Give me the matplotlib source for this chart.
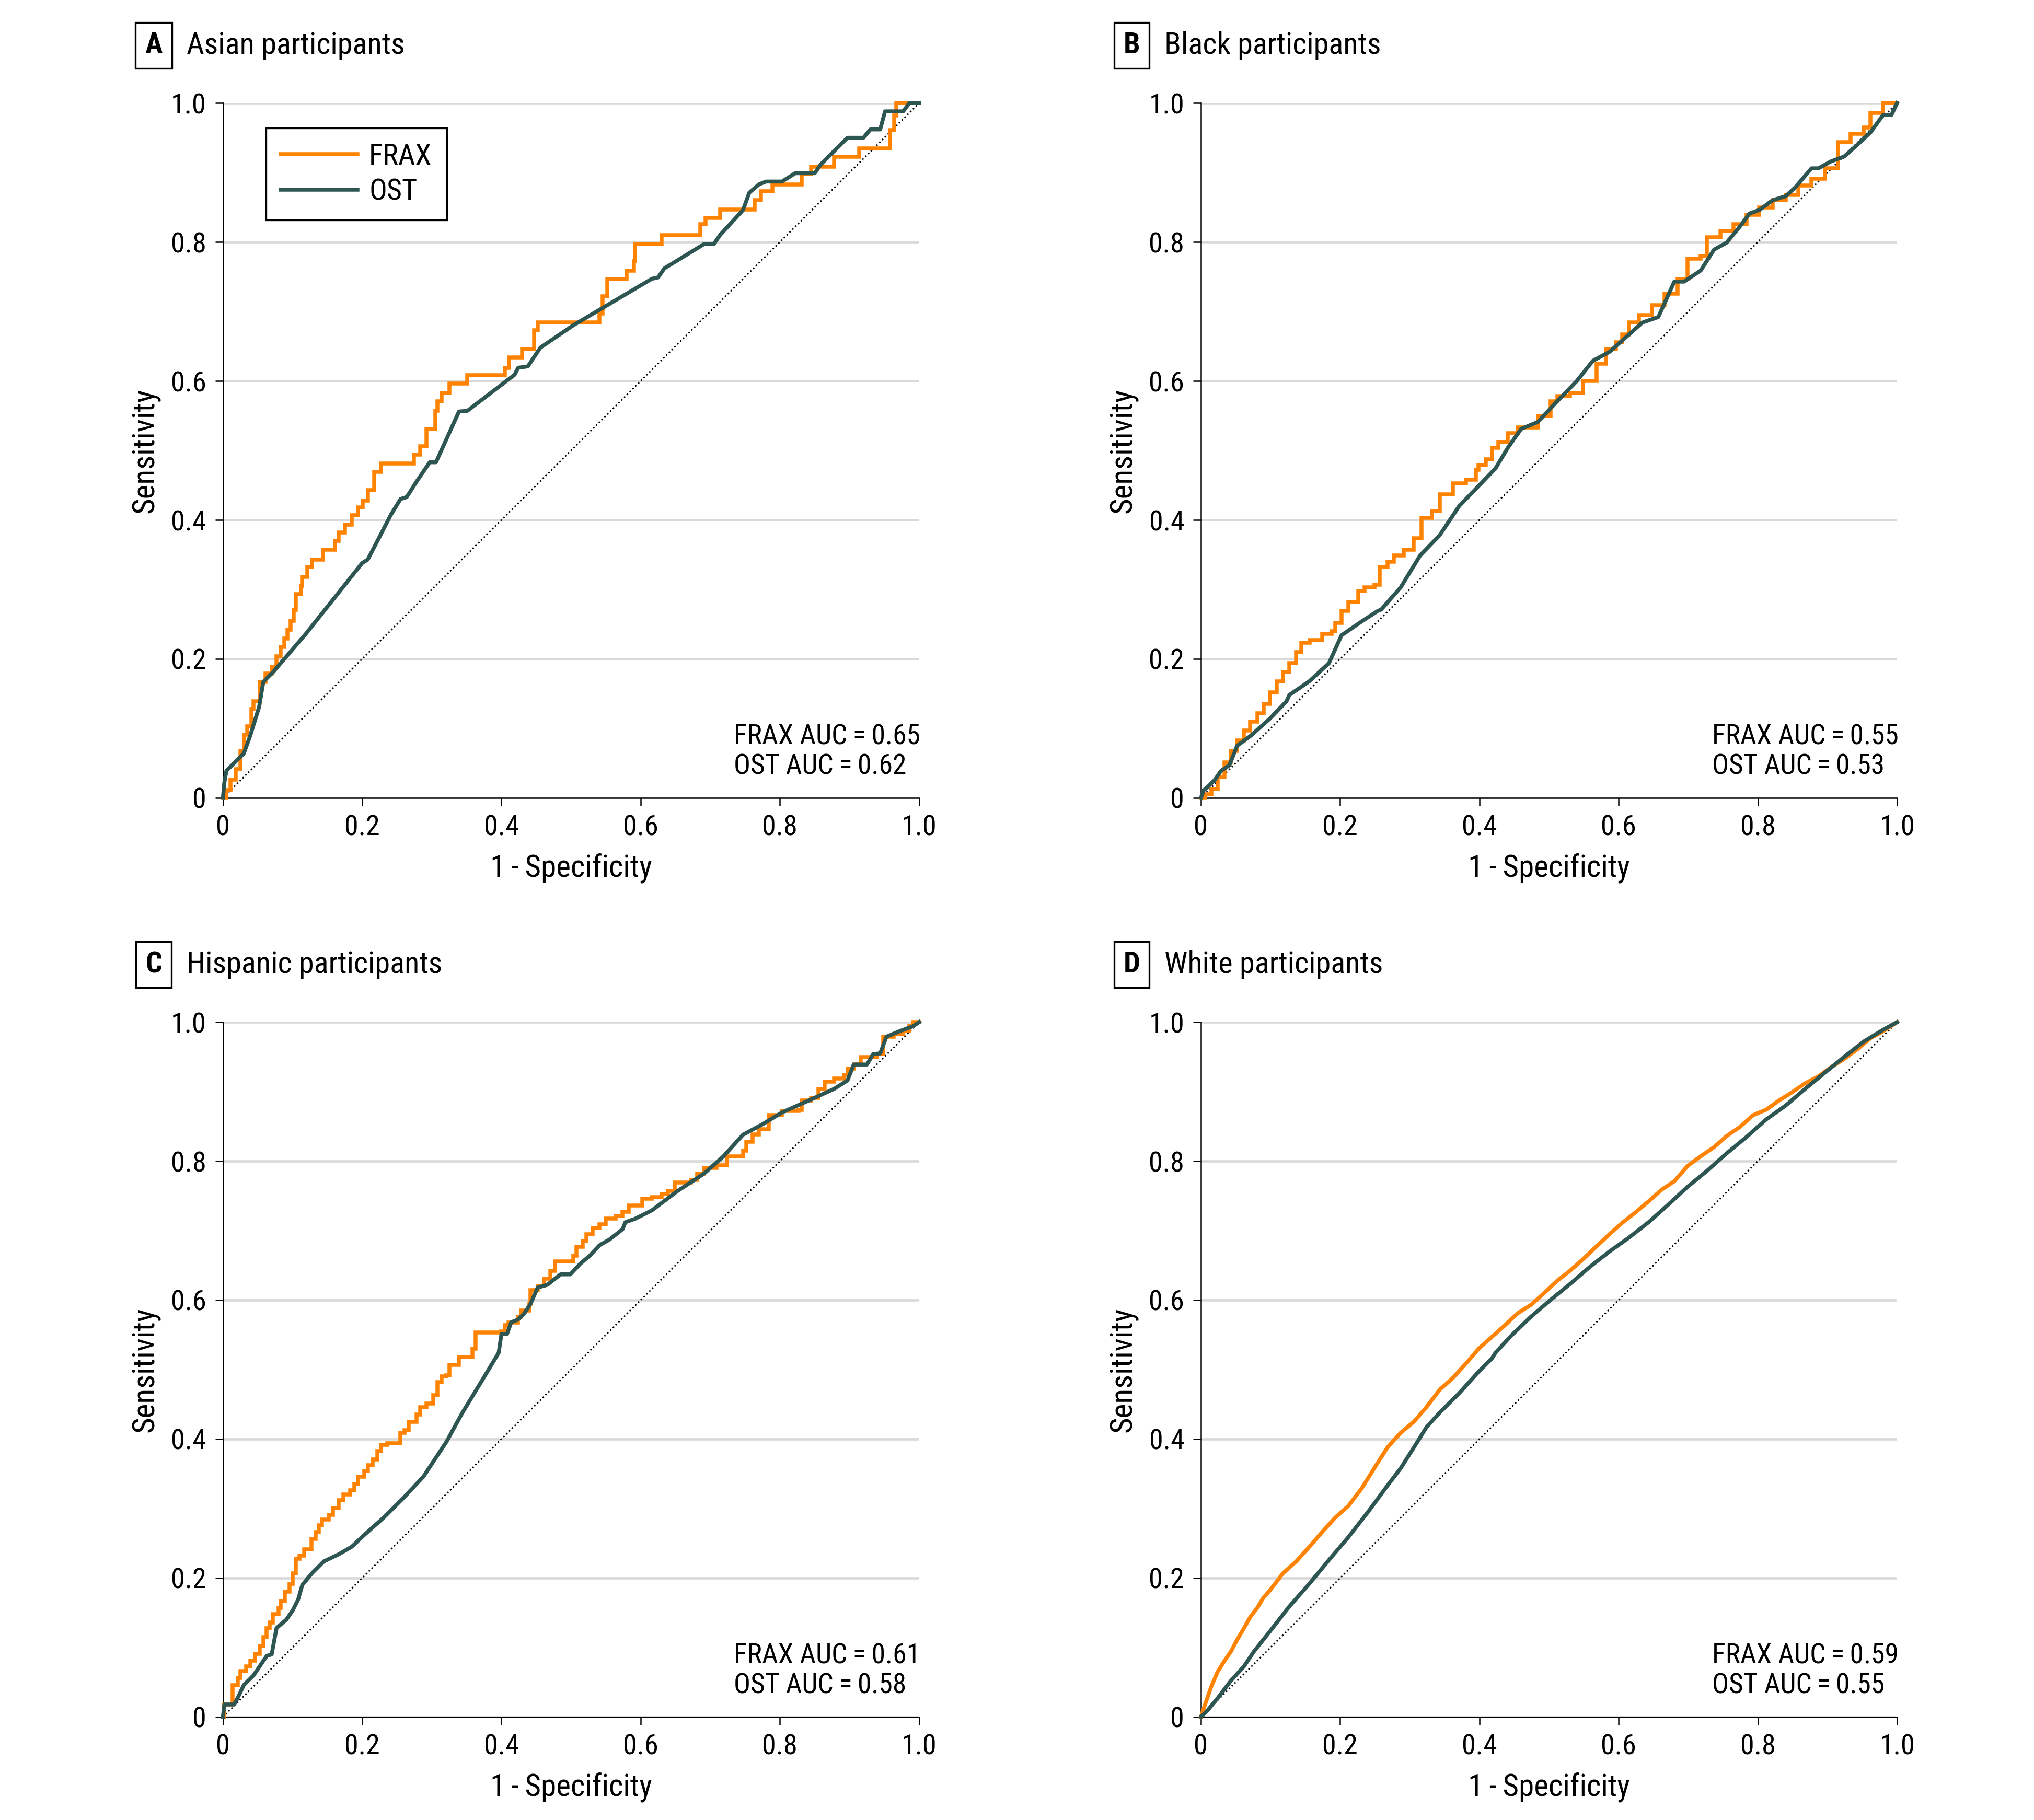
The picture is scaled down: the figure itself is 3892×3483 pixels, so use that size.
import numpy as np
import matplotlib
matplotlib.use('Agg')
import matplotlib.pyplot as plt

plt.rcParams['font.family'] = ['Roboto Condensed', 'Liberation Sans', 'DejaVu Sans']

# ==========================================
# 1. ROC CURVE POINTS
# ==========================================
# Asian participants
asian_frax_fpr = [0, 0.005, 0.011, 0.018, 0.025, 0.030, 0.035, 0.041, 0.044, 0.053, 0.061, 0.070, 0.077, 0.083,
                  0.088, 0.093, 0.097, 0.102, 0.105, 0.112, 0.114, 0.121, 0.128, 0.144, 0.161, 0.166, 0.175, 0.185,
                  0.194, 0.201, 0.208, 0.217, 0.227, 0.274, 0.283, 0.292, 0.305, 0.308, 0.314, 0.325, 0.351, 0.405,
                  0.411, 0.430, 0.447, 0.452, 0.541, 0.545, 0.552, 0.580, 0.590, 0.592, 0.630, 0.686, 0.693, 0.714,
                  0.764, 0.773, 0.789, 0.831, 0.845, 0.878, 0.914, 0.958, 0.964, 0.967, 1.0]
asian_frax_tpr = [0, 0.011, 0.026, 0.041, 0.068, 0.091, 0.103, 0.128, 0.139, 0.167, 0.179, 0.189, 0.204, 0.217,
                  0.229, 0.242, 0.255, 0.271, 0.293, 0.305, 0.318, 0.332, 0.343, 0.357, 0.370, 0.382, 0.393, 0.407,
                  0.418, 0.428, 0.443, 0.469, 0.481, 0.494, 0.506, 0.531, 0.557, 0.571, 0.583, 0.596, 0.608, 0.619,
                  0.634, 0.646, 0.673, 0.684, 0.697, 0.722, 0.747, 0.759, 0.772, 0.797, 0.810, 0.826, 0.835, 0.847,
                  0.860, 0.873, 0.883, 0.898, 0.908, 0.923, 0.935, 0.961, 0.982, 1.0, 1.0]
asian_ost_fpr = [0, 0.002, 0.005, 0.030, 0.039, 0.052, 0.058, 0.072, 0.119, 0.200, 0.208, 0.222, 0.241, 0.255,
                 0.264, 0.278, 0.297, 0.306, 0.325, 0.339, 0.351, 0.419, 0.424, 0.438, 0.456, 0.503, 0.616, 0.625,
                 0.634, 0.691, 0.705, 0.714, 0.747, 0.756, 0.770, 0.780, 0.803, 0.822, 0.850, 0.859, 0.897, 0.920,
                 0.930, 0.944, 0.951, 0.977, 0.986, 1.0]
asian_ost_tpr = [0, 0.022, 0.039, 0.064, 0.089, 0.131, 0.167, 0.181, 0.236, 0.338, 0.343, 0.370, 0.407, 0.430,
                 0.433, 0.455, 0.483, 0.483, 0.525, 0.556, 0.557, 0.609, 0.619, 0.621, 0.648, 0.680, 0.747, 0.749,
                 0.762, 0.797, 0.797, 0.810, 0.846, 0.871, 0.883, 0.887, 0.887, 0.899, 0.899, 0.912, 0.950, 0.950,
                 0.962, 0.962, 0.988, 0.988, 1.0, 1.0]

# Black participants
black_frax_fpr = [0, 0.006, 0.015, 0.024, 0.034, 0.043, 0.052, 0.062, 0.071, 0.081, 0.090, 0.099, 0.109, 0.118,
                  0.127, 0.137, 0.144, 0.156, 0.174, 0.188, 0.193, 0.202, 0.212, 0.226, 0.235, 0.249, 0.257, 0.268,
                  0.277, 0.291, 0.306, 0.317, 0.332, 0.343, 0.362, 0.381, 0.395, 0.399, 0.409, 0.418, 0.427, 0.441,
                  0.455, 0.484, 0.502, 0.512, 0.530, 0.549, 0.568, 0.582, 0.596, 0.605, 0.615, 0.629, 0.648, 0.666,
                  0.685, 0.699, 0.718, 0.727, 0.746, 0.765, 0.784, 0.802, 0.821, 0.840, 0.858, 0.877, 0.896, 0.915,
                  0.933, 0.952, 0.962, 0.980, 1.0]
black_frax_tpr = [0, 0.005, 0.013, 0.030, 0.051, 0.068, 0.083, 0.097, 0.110, 0.122, 0.135, 0.152, 0.168, 0.181,
                  0.194, 0.210, 0.223, 0.227, 0.236, 0.240, 0.252, 0.269, 0.282, 0.298, 0.303, 0.307, 0.332, 0.340,
                  0.349, 0.357, 0.374, 0.403, 0.413, 0.437, 0.453, 0.458, 0.472, 0.479, 0.487, 0.504, 0.512, 0.525,
                  0.533, 0.550, 0.571, 0.578, 0.583, 0.600, 0.625, 0.646, 0.656, 0.667, 0.684, 0.695, 0.709, 0.726,
                  0.747, 0.776, 0.780, 0.807, 0.816, 0.826, 0.839, 0.850, 0.860, 0.868, 0.881, 0.891, 0.906, 0.944,
                  0.956, 0.965, 0.986, 1.0, 1.0]
black_ost_fpr = [0, 0.004, 0.010, 0.020, 0.029, 0.041, 0.052, 0.071, 0.099, 0.123, 0.127, 0.156, 0.184, 0.202,
                 0.231, 0.254, 0.259, 0.287, 0.315, 0.343, 0.371, 0.399, 0.423, 0.441, 0.460, 0.484, 0.512, 0.540,
                 0.563, 0.587, 0.615, 0.634, 0.657, 0.680, 0.694, 0.718, 0.737, 0.755, 0.774, 0.788, 0.802, 0.821,
                 0.840, 0.854, 0.877, 0.887, 0.905, 0.924, 0.943, 0.962, 0.980, 0.992, 1.0]
black_ost_tpr = [0, 0.011, 0.016, 0.026, 0.039, 0.047, 0.075, 0.089, 0.114, 0.139, 0.148, 0.168, 0.194, 0.234,
                 0.254, 0.269, 0.271, 0.303, 0.349, 0.378, 0.420, 0.449, 0.474, 0.504, 0.531, 0.541, 0.571, 0.600,
                 0.629, 0.642, 0.667, 0.684, 0.692, 0.743, 0.743, 0.759, 0.789, 0.799, 0.822, 0.841, 0.846, 0.860,
                 0.866, 0.879, 0.906, 0.906, 0.916, 0.923, 0.940, 0.958, 0.983, 0.983, 1.0]

# Hispanic participants
hisp_frax_fpr = [0, 0.002, 0.014, 0.021, 0.025, 0.033, 0.039, 0.046, 0.053, 0.058, 0.063, 0.067, 0.072, 0.080,
                 0.083, 0.089, 0.096, 0.100, 0.105, 0.110, 0.117, 0.127, 0.133, 0.138, 0.142, 0.152, 0.158, 0.166,
                 0.173, 0.183, 0.189, 0.194, 0.203, 0.208, 0.215, 0.222, 0.227, 0.236, 0.255, 0.261, 0.267, 0.278,
                 0.283, 0.292, 0.302, 0.308, 0.314, 0.321, 0.325, 0.339, 0.358, 0.363, 0.367, 0.400, 0.405, 0.410,
                 0.424, 0.428, 0.440, 0.442, 0.452, 0.461, 0.470, 0.477, 0.483, 0.503, 0.508, 0.517, 0.522, 0.531,
                 0.541, 0.550, 0.564, 0.574, 0.583, 0.602, 0.616, 0.630, 0.639, 0.649, 0.672, 0.681, 0.691, 0.709,
                 0.724, 0.747, 0.752, 0.761, 0.770, 0.784, 0.803, 0.827, 0.831, 0.845, 0.855, 0.864, 0.878, 0.892,
                 0.897, 0.906, 0.916, 0.939, 0.948, 0.963, 0.977, 0.986, 0.991, 1.0]
hisp_frax_tpr = [0, 0.018, 0.046, 0.056, 0.066, 0.073, 0.081, 0.091, 0.102, 0.115, 0.128, 0.136, 0.148, 0.157,
                 0.167, 0.180, 0.192, 0.207, 0.228, 0.232, 0.241, 0.256, 0.266, 0.276, 0.284, 0.291, 0.301, 0.312,
                 0.320, 0.326, 0.335, 0.346, 0.354, 0.362, 0.371, 0.383, 0.392, 0.394, 0.409, 0.413, 0.425, 0.435,
                 0.446, 0.451, 0.463, 0.482, 0.490, 0.492, 0.507, 0.518, 0.530, 0.553, 0.553, 0.555, 0.564, 0.568,
                 0.576, 0.585, 0.595, 0.614, 0.620, 0.631, 0.642, 0.656, 0.656, 0.664, 0.677, 0.685, 0.695, 0.704,
                 0.709, 0.717, 0.721, 0.727, 0.736, 0.746, 0.748, 0.753, 0.757, 0.769, 0.773, 0.782, 0.790, 0.794,
                 0.807, 0.815, 0.828, 0.838, 0.846, 0.866, 0.872, 0.874, 0.887, 0.891, 0.904, 0.914, 0.919, 0.924,
                 0.933, 0.939, 0.950, 0.954, 0.979, 0.983, 0.987, 0.995, 1.0, 1.0]
hisp_ost_fpr = [0, 0.002, 0.016, 0.021, 0.030, 0.044, 0.063, 0.070, 0.077, 0.091, 0.100, 0.108, 0.114, 0.128,
                0.145, 0.166, 0.185, 0.203, 0.231, 0.260, 0.288, 0.321, 0.344, 0.372, 0.396, 0.400, 0.408, 0.414,
                0.424, 0.433, 0.442, 0.452, 0.466, 0.485, 0.499, 0.513, 0.527, 0.541, 0.555, 0.564, 0.574, 0.578,
                0.592, 0.616, 0.653, 0.691, 0.719, 0.747, 0.775, 0.803, 0.841, 0.878, 0.897, 0.906, 0.925, 0.934,
                0.944, 0.953, 0.972, 0.991, 1.0]
hisp_ost_tpr = [0, 0.018, 0.018, 0.027, 0.046, 0.060, 0.088, 0.090, 0.128, 0.140, 0.153, 0.169, 0.190, 0.207,
                0.224, 0.234, 0.245, 0.262, 0.287, 0.316, 0.346, 0.396, 0.438, 0.484, 0.524, 0.551, 0.551, 0.568,
                0.572, 0.581, 0.595, 0.618, 0.622, 0.637, 0.637, 0.652, 0.664, 0.679, 0.687, 0.694, 0.702, 0.712,
                0.717, 0.729, 0.757, 0.782, 0.807, 0.838, 0.853, 0.870, 0.887, 0.904, 0.916, 0.939, 0.939, 0.954,
                0.955, 0.979, 0.987, 0.994, 1.0]

# White participants
white_frax_fpr = [0, 0.006, 0.015, 0.024, 0.034, 0.043, 0.052, 0.062, 0.071, 0.081, 0.090, 0.099, 0.109, 0.118,
                  0.137, 0.156, 0.174, 0.193, 0.212, 0.231, 0.249, 0.268, 0.287, 0.306, 0.324, 0.343, 0.362, 0.381,
                  0.399, 0.418, 0.437, 0.455, 0.474, 0.493, 0.512, 0.530, 0.549, 0.568, 0.587, 0.605, 0.624, 0.643,
                  0.662, 0.680, 0.699, 0.718, 0.737, 0.755, 0.774, 0.793, 0.812, 0.830, 0.849, 0.868, 0.887, 0.905,
                  0.924, 0.943, 0.962, 0.980, 1.0]
white_frax_tpr = [0, 0.018, 0.044, 0.065, 0.081, 0.094, 0.111, 0.128, 0.144, 0.157, 0.172, 0.182, 0.195, 0.207,
                  0.224, 0.245, 0.266, 0.287, 0.304, 0.329, 0.358, 0.388, 0.409, 0.425, 0.446, 0.471, 0.488, 0.509,
                  0.530, 0.547, 0.564, 0.581, 0.593, 0.610, 0.628, 0.642, 0.659, 0.677, 0.695, 0.711, 0.726, 0.742,
                  0.759, 0.771, 0.793, 0.807, 0.820, 0.836, 0.849, 0.866, 0.874, 0.887, 0.899, 0.912, 0.922, 0.935,
                  0.947, 0.961, 0.977, 0.987, 1.0]
white_ost_fpr = [0, 0.010, 0.024, 0.043, 0.062, 0.076, 0.099, 0.127, 0.156, 0.184, 0.212, 0.240, 0.268, 0.287,
                 0.306, 0.324, 0.343, 0.371, 0.399, 0.418, 0.423, 0.446, 0.474, 0.502, 0.530, 0.559, 0.587, 0.615,
                 0.643, 0.671, 0.699, 0.727, 0.755, 0.784, 0.812, 0.840, 0.868, 0.896, 0.924, 0.952, 0.980, 1.0]
white_ost_tpr = [0, 0.010, 0.027, 0.052, 0.073, 0.094, 0.123, 0.159, 0.192, 0.226, 0.259, 0.295, 0.333, 0.358,
                 0.388, 0.417, 0.438, 0.466, 0.497, 0.516, 0.524, 0.549, 0.576, 0.600, 0.623, 0.648, 0.670, 0.690,
                 0.712, 0.737, 0.763, 0.786, 0.811, 0.835, 0.860, 0.880, 0.904, 0.927, 0.950, 0.972, 0.989, 1.0]

panel_letters = ['A', 'B', 'C', 'D']
panel_titles = ['Asian participants', 'Black participants', 'Hispanic participants', 'White participants']
frax_auc = ['0.65', '0.55', '0.61', '0.59']
ost_auc = ['0.62', '0.53', '0.58', '0.55']
tick_vals = [0, 0.2, 0.4, 0.6, 0.8, 1.0]
tick_labels = ['0', '0.2', '0.4', '0.6', '0.8', '1.0']

curves = [
    (asian_frax_fpr, asian_frax_tpr, asian_ost_fpr, asian_ost_tpr, True),
    (black_frax_fpr, black_frax_tpr, black_ost_fpr, black_ost_tpr, True),
    (hisp_frax_fpr, hisp_frax_tpr, hisp_ost_fpr, hisp_ost_tpr, True),
    (white_frax_fpr, white_frax_tpr, white_ost_fpr, white_ost_tpr, False),
]

FRAX_COLOR = '#FF8200'
OST_COLOR = '#2D5552'
THIN = '\u2009'

# ==========================================
# 2. FIGURE LAYOUT
# ==========================================
fig = plt.figure(figsize=(3892 / 300, 3483 / 300), dpi=300)
positions = [
    [0.1096, 0.5616, 0.3423, 0.3818],
    [0.5904, 0.5616, 0.3423, 0.3818],
    [0.1096, 0.0566, 0.3423, 0.3818],
    [0.5904, 0.0566, 0.3423, 0.3818],
]

for i, pos in enumerate(positions):
    ax = fig.add_axes(pos)
    frax_x, frax_y, ost_x, ost_y, stepped = curves[i]

    # reference diagonal
    ax.plot([0, 1], [0, 1], color='black', lw=0.7, linestyle=(0, (1, 1.6)), zorder=2)

    ds = 'steps-post' if stepped else 'default'
    ax.plot(frax_x, frax_y, color=FRAX_COLOR, lw=1.8, drawstyle=ds, label='FRAX',
            clip_on=False, zorder=3, solid_joinstyle='miter')
    ax.plot(ost_x, ost_y, color=OST_COLOR, lw=1.8, label='OST', clip_on=False, zorder=4)

    ax.set_xlim(0, 1)
    ax.set_ylim(0, 1)
    ax.set_xticks(tick_vals)
    ax.set_xticklabels(tick_labels)
    ax.set_yticks(tick_vals)
    ax.set_yticklabels(tick_labels)
    ax.tick_params(direction='out', length=3.6, width=0.6, labelsize=13, pad=4)

    ax.yaxis.grid(True, color='#d9d9d9', lw=1.1)
    ax.set_axisbelow(True)
    for side in ['top', 'right']:
        ax.spines[side].set_visible(False)
    for side in ['left', 'bottom']:
        ax.spines[side].set_linewidth(0.6)

    ax.set_xlabel(f'1{THIN}-{THIN}Specificity', fontsize=14.2, labelpad=5.5)
    ax.set_ylabel('Sensitivity', fontsize=14.2, labelpad=5)

    ax.text(0.734, 0.088, f'FRAX AUC{THIN}={THIN}{frax_auc[i]}', transform=ax.transAxes,
            fontsize=12.8, ha='left', va='center')
    ax.text(0.734, 0.045, f'OST AUC{THIN}={THIN}{ost_auc[i]}', transform=ax.transAxes,
            fontsize=12.8, ha='left', va='center')

    # panel letter box + title
    box_x = pos[0] - 0.0340
    title_y = pos[1] + pos[3] + 0.0315
    fig.text(box_x, title_y, panel_letters[i], fontsize=13.5, fontweight='bold', ha='center', va='center',
             bbox=dict(boxstyle='square,pad=0.32', facecolor='white', edgecolor='black', lw=0.8))
    fig.text(box_x + 0.0160, title_y, panel_titles[i], fontsize=14, ha='left', va='center')

    if i == 0:
        leg = ax.legend(loc='upper left', bbox_to_anchor=(0.062, 0.964), borderaxespad=0,
                        fancybox=False, edgecolor='black', framealpha=1, fontsize=13.5,
                        handlelength=2.6, borderpad=0.5, labelspacing=0.25, handletextpad=0.4)
        leg.get_frame().set_linewidth(0.8)

fig.savefig('out.png', dpi=300, facecolor='white')
